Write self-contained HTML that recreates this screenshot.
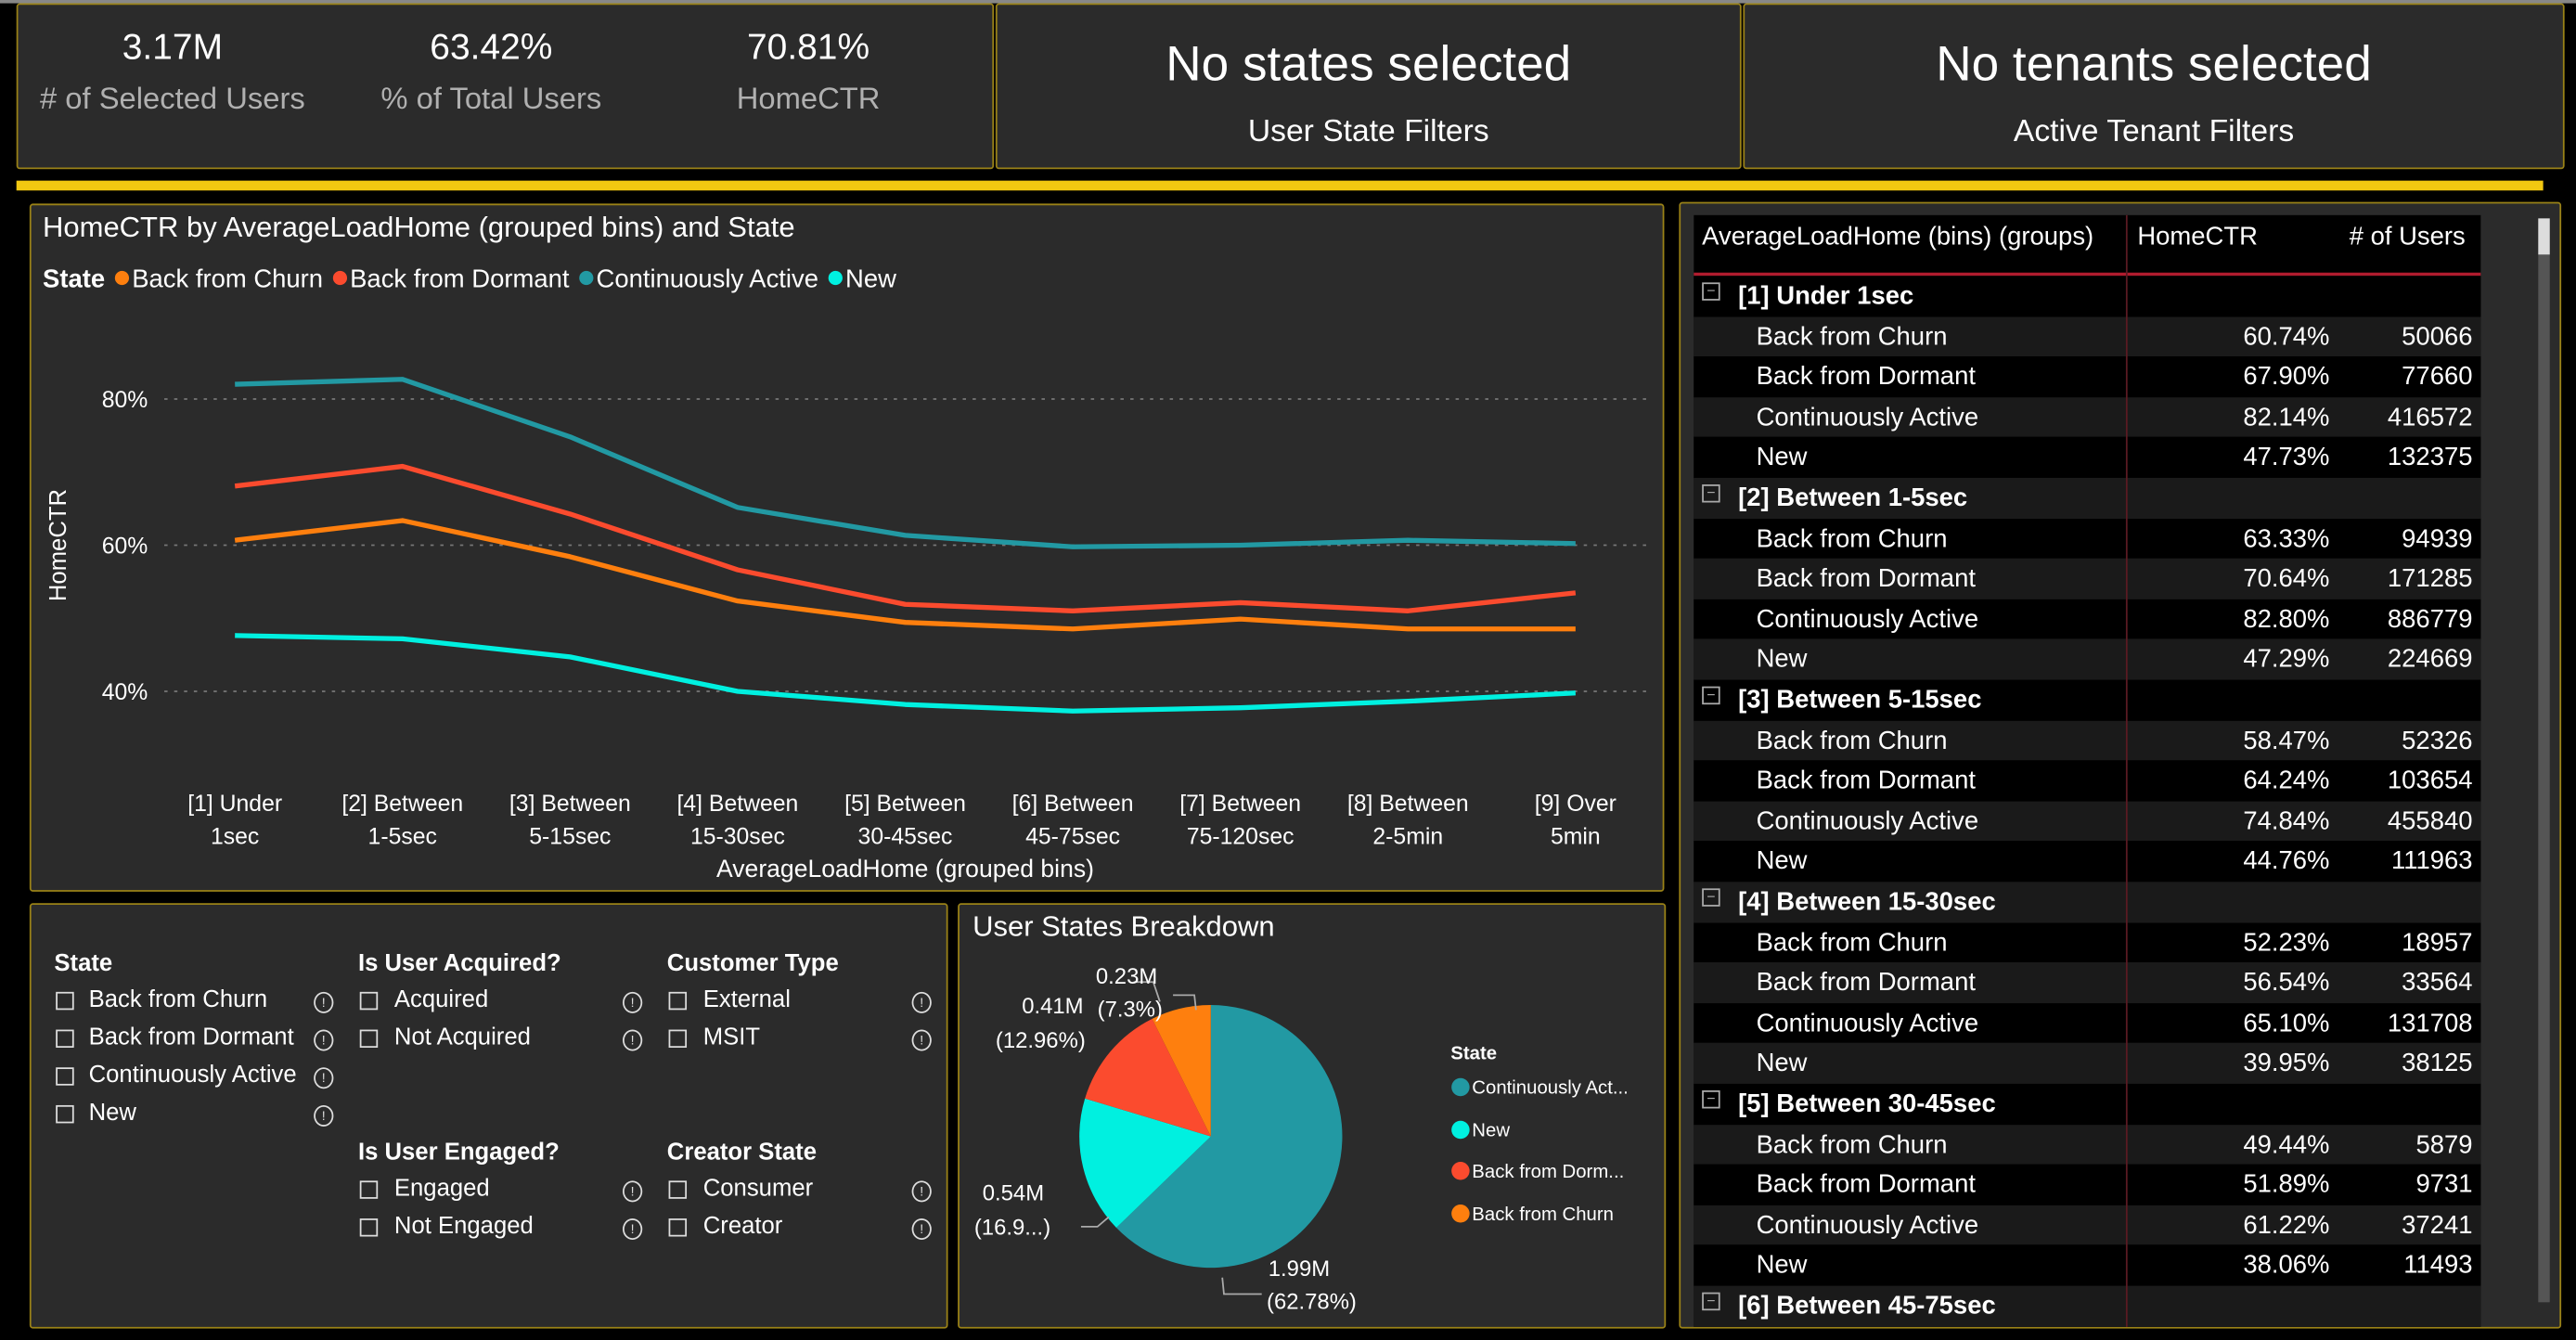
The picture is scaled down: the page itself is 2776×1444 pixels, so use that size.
<!DOCTYPE html>
<html><head><meta charset="utf-8"><style>
html,body{margin:0;padding:0;background:#000;width:2776px;height:1444px;overflow:hidden}
#s{position:absolute;left:0;top:0;width:1568px;height:816px;transform:scale(1.77043,1.76961);transform-origin:0 0;font-family:"Liberation Sans",sans-serif;color:#fff}
.p{position:absolute;background:#2b2b2b;border:1px solid #9a8217;box-sizing:border-box;border-radius:2px}
.t{position:absolute;white-space:nowrap}
.c{text-align:center}
.g{color:#b0b0b0}
.b{font-weight:bold}
.cb{position:absolute;width:9px;height:9px;border:1.5px solid #ddd}
.ic{position:absolute;width:10px;height:11px;border:1.3px solid #ddd;border-radius:50%;font-size:8px;line-height:11px;text-align:center;color:#ddd}
.r{position:absolute;left:1031px;width:479px;height:24.6px}
.r span{position:absolute;top:4px;font-size:15.5px;white-space:nowrap}
</style></head><body><div id="s">
<div style="position:absolute;left:0;top:0;width:1568px;height:2px;background:#888"></div>
<div class="p" style="left:10px;top:2px;width:595px;height:101px"></div>
<div class="t c" style="left:40px;top:16px;width:130px;font-size:22px">3.17M</div>
<div class="t c g" style="left:10px;top:49px;width:190px;font-size:18.5px"># of Selected Users</div>
<div class="t c" style="left:234px;top:16px;width:130px;font-size:22px">63.42%</div>
<div class="t c g" style="left:210px;top:49px;width:178px;font-size:18.5px">% of Total Users</div>
<div class="t c" style="left:427px;top:16px;width:130px;font-size:22px">70.81%</div>
<div class="t c g" style="left:427px;top:49px;width:130px;font-size:18.5px">HomeCTR</div>
<div class="p" style="left:606px;top:2px;width:454px;height:101px"></div>
<div class="t c" style="left:606px;top:23px;width:454px;font-size:30px">No states selected</div>
<div class="t c" style="left:606px;top:70px;width:454px;font-size:19px">User State Filters</div>
<div class="p" style="left:1061px;top:2px;width:500px;height:101px"></div>
<div class="t c" style="left:1061px;top:23px;width:500px;font-size:30px">No tenants selected</div>
<div class="t c" style="left:1061px;top:70px;width:500px;font-size:19px">Active Tenant Filters</div>
<div style="position:absolute;left:10px;top:110px;width:1538px;height:6px;background:#f2c811"></div>

<div class="p" style="left:18px;top:124px;width:995px;height:419px"></div>
<div class="t" style="left:26px;top:128px;font-size:17.5px">HomeCTR by AverageLoadHome (grouped bins) and State</div>
<div class="t" style="left:26px;top:162px;font-size:15.5px"><b>State</b> <span style="color:#fe7f0e;font-size:20px;line-height:15px">●</span>Back from Churn <span style="color:#fb4b2e;font-size:20px;line-height:15px">●</span>Back from Dormant <span style="color:#2299a3;font-size:20px;line-height:15px">●</span>Continuously Active <span style="color:#00f0e0;font-size:20px;line-height:15px">●</span>New</div>
<svg style="position:absolute;left:0;top:0" width="1568" height="816">
<g stroke="#777" stroke-dasharray="2,4" stroke-width="1"><line x1="100" y1="243" x2="1002" y2="243"/><line x1="100" y1="332" x2="1002" y2="332"/><line x1="100" y1="421" x2="1002" y2="421"/></g>
<g fill="none" stroke-width="3" stroke-linejoin="round">
<polyline stroke="#2299a3" points="143,234 245,231 347,266 449,309 551,326 653,333 755,332 857,329 959,331"/>
<polyline stroke="#fb4b2e" points="143,296 245,284 347,313 449,347 551,368 653,372 755,367 857,372 959,361"/>
<polyline stroke="#fe7f0e" points="143,329 245,317 347,339 449,366 551,379 653,383 755,377 857,383 959,383"/>
<polyline stroke="#00f0e0" points="143,387 245,389 347,400 449,421 551,429 653,433 755,431 857,427 959,422"/>
</g>
<g fill="#fff" font-family="Liberation Sans" font-size="14" text-anchor="end"><text x="90" y="248">80%</text><text x="90" y="337">60%</text><text x="90" y="426">40%</text></g>
<text x="40" y="332" fill="#fff" font-family="Liberation Sans" font-size="14.5" transform="rotate(-90 40 332)" text-anchor="middle">HomeCTR</text>
<g fill="#fff" font-family="Liberation Sans" font-size="14" text-anchor="middle">
<text x="143" y="494">[1] Under</text><text x="143" y="514">1sec</text>
<text x="245" y="494">[2] Between</text><text x="245" y="514">1-5sec</text>
<text x="347" y="494">[3] Between</text><text x="347" y="514">5-15sec</text>
<text x="449" y="494">[4] Between</text><text x="449" y="514">15-30sec</text>
<text x="551" y="494">[5] Between</text><text x="551" y="514">30-45sec</text>
<text x="653" y="494">[6] Between</text><text x="653" y="514">45-75sec</text>
<text x="755" y="494">[7] Between</text><text x="755" y="514">75-120sec</text>
<text x="857" y="494">[8] Between</text><text x="857" y="514">2-5min</text>
<text x="959" y="494">[9] Over</text><text x="959" y="514">5min</text>
<text x="551" y="534" font-size="15">AverageLoadHome (grouped bins)</text>
</g>
</svg>

<div class="p" style="left:18px;top:550px;width:559px;height:259px"></div>
<div class="t b" style="left:33px;top:579px;font-size:14.5px">State</div>
<div class="t b" style="left:218px;top:579px;font-size:14.5px">Is User Acquired?</div>
<div class="t b" style="left:406px;top:579px;font-size:14.5px">Customer Type</div>
<div class="t b" style="left:218px;top:694px;font-size:14.5px">Is User Engaged?</div>
<div class="t b" style="left:406px;top:694px;font-size:14.5px">Creator State</div>
<div style="position:absolute;left:0;top:0;font-size:14.5px">
<div class="cb" style="left:34px;top:604px"></div><div class="t" style="left:54px;top:601px">Back from Churn</div><div class="ic" style="left:191px;top:604px">!</div>
<div class="cb" style="left:34px;top:627px"></div><div class="t" style="left:54px;top:624px">Back from Dormant</div><div class="ic" style="left:191px;top:627px">!</div>
<div class="cb" style="left:34px;top:650px"></div><div class="t" style="left:54px;top:647px">Continuously Active</div><div class="ic" style="left:191px;top:650px">!</div>
<div class="cb" style="left:34px;top:673px"></div><div class="t" style="left:54px;top:670px">New</div><div class="ic" style="left:191px;top:673px">!</div>
<div class="cb" style="left:219px;top:604px"></div><div class="t" style="left:240px;top:601px">Acquired</div><div class="ic" style="left:379px;top:604px">!</div>
<div class="cb" style="left:219px;top:627px"></div><div class="t" style="left:240px;top:624px">Not Acquired</div><div class="ic" style="left:379px;top:627px">!</div>
<div class="cb" style="left:407px;top:604px"></div><div class="t" style="left:428px;top:601px">External</div><div class="ic" style="left:555px;top:604px">!</div>
<div class="cb" style="left:407px;top:627px"></div><div class="t" style="left:428px;top:624px">MSIT</div><div class="ic" style="left:555px;top:627px">!</div>
<div class="cb" style="left:219px;top:719px"></div><div class="t" style="left:240px;top:716px">Engaged</div><div class="ic" style="left:379px;top:719px">!</div>
<div class="cb" style="left:219px;top:742px"></div><div class="t" style="left:240px;top:739px">Not Engaged</div><div class="ic" style="left:379px;top:742px">!</div>
<div class="cb" style="left:407px;top:719px"></div><div class="t" style="left:428px;top:716px">Consumer</div><div class="ic" style="left:555px;top:719px">!</div>
<div class="cb" style="left:407px;top:742px"></div><div class="t" style="left:428px;top:739px">Creator</div><div class="ic" style="left:555px;top:742px">!</div>
</div>

<div class="p" style="left:583px;top:550px;width:431px;height:259px"></div>
<div class="t" style="left:592px;top:554px;font-size:17.5px">User States Breakdown</div>
<svg style="position:absolute;left:0;top:0" width="1568" height="816">
<path d="M737,692 L737,612 A80,80 0 1,1 679.5,747.6 Z" fill="#2299a3"/>
<path d="M737,692 L679.5,747.6 A80,80 0 0,1 660.4,668.9 Z" fill="#00f0e0"/>
<path d="M737,692 L660.4,668.9 A80,80 0 0,1 701.3,620.4 Z" fill="#fb4b2e"/>
<path d="M737,692 L701.3,620.4 A80,80 0 0,1 737,612 Z" fill="#fe7f0e"/>
<g stroke="#aaa" fill="none" stroke-width="1"><polyline points="714,606 727,606 728,615"/><polyline points="690,598 702,598 706,610"/><polyline points="675,741 668,747 658,747"/><polyline points="744,778 745,788 768,788"/></g>
<g fill="#fff" font-family="Liberation Sans" font-size="13.5">
<text x="667" y="599">0.23M</text><text x="668" y="619">(7.3%)</text>
<text x="622" y="617">0.41M</text><text x="606" y="638">(12.96%)</text>
<text x="598" y="731">0.54M</text><text x="593" y="752">(16.9...)</text>
<text x="772" y="777">1.99M</text><text x="771" y="797">(62.78%)</text>
</g>
<g font-family="Liberation Sans" font-size="11.5" fill="#fff">
<text x="883" y="645" font-weight="bold">State</text>
<circle cx="889" cy="662" r="5.5" fill="#2299a3"/><text x="896" y="666">Continuously Act...</text>
<circle cx="889" cy="688" r="5.5" fill="#00f0e0"/><text x="896" y="692">New</text>
<circle cx="889" cy="713" r="5.5" fill="#fb4b2e"/><text x="896" y="717">Back from Dorm...</text>
<circle cx="889" cy="739" r="5.5" fill="#fe7f0e"/><text x="896" y="743">Back from Churn</text>
</g>
</svg>

<div class="p" style="left:1022px;top:123px;width:537px;height:686px"></div>
<div style="position:absolute;left:1031px;top:131px;width:479px;height:677px;background:#000"></div>
<div class="t" style="left:1036px;top:136px;font-size:15.5px">AverageLoadHome (bins) (groups)</div>
<div class="t" style="left:1301px;top:136px;font-size:15.5px">HomeCTR</div>
<div class="t" style="left:1430px;top:136px;font-size:15.5px"># of Users</div>
<div style="position:absolute;left:1031px;top:166px;width:479px;height:2px;background:#b01c2e"></div>
<div id="rows"></div>
<div style="position:absolute;left:1294px;top:131px;width:1px;height:677px;background:#5a1a22"></div>
<div style="position:absolute;left:1545px;top:133px;width:7px;height:660px;background:#555"></div>
<div style="position:absolute;left:1545px;top:133px;width:7px;height:22px;background:#ddd"></div>
<script>
(function(){
var d=[["[1] Under 1sec"],["Back from Churn","60.74%","50066"],["Back from Dormant","67.90%","77660"],["Continuously Active","82.14%","416572"],["New","47.73%","132375"],
["[2] Between 1-5sec"],["Back from Churn","63.33%","94939"],["Back from Dormant","70.64%","171285"],["Continuously Active","82.80%","886779"],["New","47.29%","224669"],
["[3] Between 5-15sec"],["Back from Churn","58.47%","52326"],["Back from Dormant","64.24%","103654"],["Continuously Active","74.84%","455840"],["New","44.76%","111963"],
["[4] Between 15-30sec"],["Back from Churn","52.23%","18957"],["Back from Dormant","56.54%","33564"],["Continuously Active","65.10%","131708"],["New","39.95%","38125"],
["[5] Between 30-45sec"],["Back from Churn","49.44%","5879"],["Back from Dormant","51.89%","9731"],["Continuously Active","61.22%","37241"],["New","38.06%","11493"],
["[6] Between 45-75sec"]];
var h="";for(var i=0;i<d.length;i++){var ty=(168+i*24.6).toFixed(1);var hg=Math.min(24.6,808-ty).toFixed(1);var bg=i%2?"#1a1a1a":"#000";var r=d[i];
h+='<div class="r" style="top:'+ty+'px;height:'+hg+'px;background:'+bg+';overflow:hidden">';
if(r.length==1){h+='<span style="left:5px;top:4px;width:9px;height:9px;border:1px solid #aaa;font-size:9px;line-height:8px;text-align:center;color:#aaa">−</span><span style="left:27px;font-weight:bold">'+r[0]+'</span>';}
else{h+='<span style="left:38px">'+r[0]+'</span><span style="right:92px">'+r[1]+'</span><span style="right:5px">'+r[2]+'</span>';}
h+='</div>';}
document.getElementById("rows").innerHTML=h;
})();
</script>
</div></body></html>
